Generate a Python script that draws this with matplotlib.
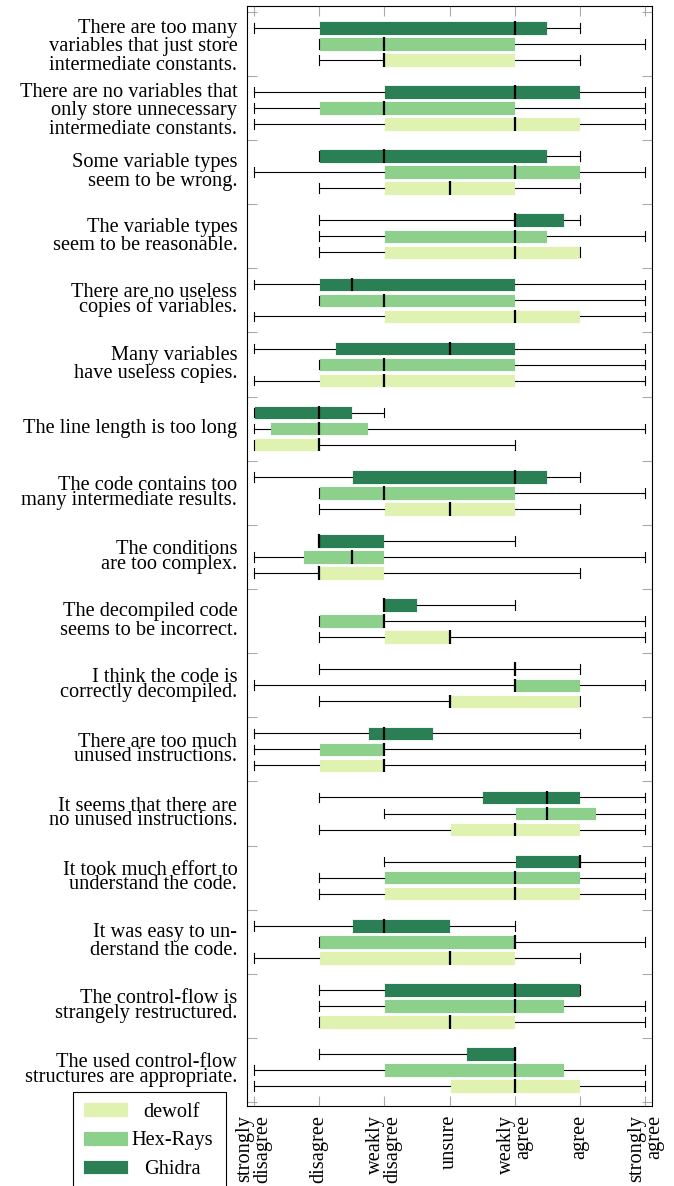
import matplotlib
matplotlib.use('Agg')
import matplotlib.pyplot as plt
from matplotlib.patches import Patch
from matplotlib.transforms import ScaledTranslation

questions = [
    'There are too many\nvariables that just store\nintermediate constants.',
    'There are no variables that\nonly store unnecessary\nintermediate constants.',
    'Some variable types\nseem to be wrong.',
    'The variable types\nseem to be reasonable.',
    'There are no useless\ncopies of variables.',
    'Many variables\nhave useless copies.',
    'The line length is too long',
    'The code contains too\nmany intermediate results.',
    'The conditions\nare too complex.',
    'The decompiled code\nseems to be incorrect.',
    'I think the code is\ncorrectly decompiled.',
    'There are too much\nunused instructions.',
    'It seems that there are\nno unused instructions.',
    'It took much effort to\nunderstand the code.',
    'It was easy to un-\nderstand the code.',
    'The control-flow is\nstrangely restructured.',
    'The used control-flow\nstructures are appropriate.',
]

answers = ['strongly\ndisagree', 'disagree', 'weakly\ndisagree', 'unsure',
           'weakly\nagree', 'agree', 'strongly\nagree']

tools = ['dewolf', 'Hex-Rays', 'Ghidra']

# (whisker low, q1, median, q3, whisker high) per question
dewolf = [
    (2, 3, 3, 5, 6), (1, 3, 5, 6, 7), (2, 3, 4, 5, 6), (2, 3, 5, 6, 6),
    (1, 3, 5, 6, 7), (1, 2, 3, 5, 7), (1, 1, 2, 2, 5), (2, 3, 4, 5, 6),
    (1, 2, 2, 3, 6), (2, 3, 4, 4, 7), (2, 4, 4, 6, 6), (1, 2, 3, 3, 7),
    (2, 4, 5, 6, 7), (2, 3, 5, 6, 7), (1, 2, 4, 5, 6), (2, 2, 4, 5, 7),
    (1, 4, 5, 6, 7),
]
hexrays = [
    (2, 2, 3, 5, 7), (1, 2, 3, 5, 7), (1, 3, 5, 6, 7), (2, 3, 5, 5.5, 7),
    (2, 2, 3, 5, 7), (2, 2, 3, 5, 7), (1, 1.25, 2, 2.75, 7), (2, 2, 3, 5, 7),
    (1, 1.75, 2.5, 3, 7), (2, 2, 3, 3, 7), (1, 5, 5, 6, 7), (1, 2, 3, 3, 7),
    (3, 5, 5.5, 6.25, 7), (2, 3, 5, 6, 7), (2, 2, 5, 5, 7), (2, 3, 5, 5.75, 7),
    (1, 3, 5, 5.75, 7),
]
ghidra = [
    (1, 2, 5, 5.5, 6), (1, 3, 5, 6, 7), (2, 2, 3, 5.5, 6), (2, 5, 5, 5.75, 6),
    (1, 2, 2.5, 5, 7), (1, 2.25, 4, 5, 7), (1, 1, 2, 2.5, 3), (1, 2.5, 5, 5.5, 6),
    (2, 2, 2, 3, 5), (3, 3, 3, 3.5, 5), (2, 5, 5, 5, 6), (1, 2.75, 3, 3.75, 6),
    (2, 4.5, 5.5, 6, 7), (3, 5, 6, 6, 7), (1, 2.5, 3, 4, 5), (2, 3, 5, 6, 6),
    (2, 4.25, 5, 5, 5),
]

colors = {'dewolf': '#dff2b0', 'Hex-Rays': '#8cd08c', 'Ghidra': '#2b7f55'}
offsets = {'dewolf': 0.25, 'Hex-Rays': 0.0, 'Ghidra': -0.25}
# some of the question labels are set tighter in the original
label_linespacing = [0.95, 0.95, 0.95, 0.95, 0.68, 0.95, 0.95, 0.68, 0.68,
                     0.95, 0.68, 0.68, 0.68, 0.68, 0.95, 0.68, 0.68]

plt.rcParams.update({'font.family': ['Liberation Serif', 'DejaVu Serif'],
                     'font.size': 14.7,
                     'axes.linewidth': 0.8})

fig = plt.figure(figsize=(6.74, 11.86), dpi=100)
ax = fig.add_axes([247 / 674, 1 - 1106 / 1186, 405 / 674, 1100 / 1186])

for name, stats in (('dewolf', dewolf), ('Hex-Rays', hexrays), ('Ghidra', ghidra)):
    bstats = [dict(whislo=s[0], q1=s[1], med=s[2], q3=s[3], whishi=s[4]) for s in stats]
    ax.bxp(bstats, positions=[i + offsets[name] for i in range(len(stats))],
           widths=0.21, capwidths=0.15, orientation='horizontal',
           patch_artist=True, showfliers=False, manage_ticks=False,
           boxprops=dict(facecolor=colors[name], edgecolor='white', linewidth=0.6),
           medianprops=dict(color='black', linewidth=1.6),
           whiskerprops=dict(color='black', linewidth=0.8),
           capprops=dict(color='black', linewidth=0.8))

ax.set_xlim(0.9, 7.1)
ax.set_xticks(range(1, 8))
ax.set_xticklabels(answers, rotation=90, ha='center', va='top',
                   multialignment='right', linespacing=0.9)
ax.tick_params(axis='x', direction='in', top=True, bottom=True, length=7.2,
               color='#aaaaaa', width=0.8, pad=6.5)

ax.set_ylim(16.56, -0.59)
ax.set_yticks(range(len(questions)))
ax.set_yticklabels(questions, multialignment='right', va='center')
ax.set_yticks([i - 0.5 for i in range(len(questions) + 1)], minor=True)
ax.tick_params(axis='y', which='major', length=0, pad=7)
ax.tick_params(axis='y', which='minor', direction='in', left=True, right=True,
               length=7.2, color='#aaaaaa', width=0.8)
for lbl, ls in zip(ax.get_yticklabels(), label_linespacing):
    lbl.set_linespacing(ls)
    if lbl.get_text().count('\n') == 2:
        # three-line labels sit a little lower in the original
        lbl.set_transform(lbl.get_transform() + ScaledTranslation(0, -0.03, fig.dpi_scale_trans))

handles = [Patch(facecolor=colors[t], edgecolor='white', linewidth=0.6) for t in tools]
leg_top = 1 - 1092 / 1186
leg = fig.legend(handles, tools, loc='upper left', mode='expand',
                 bbox_to_anchor=(73 / 674, leg_top - 0.1, 153 / 674, 0.1),
                 fancybox=False, edgecolor='black', framealpha=1,
                 handlelength=2.2, handleheight=0.73, handletextpad=0.15,
                 labelspacing=0.45, borderpad=0.5, borderaxespad=0)
leg.get_frame().set_linewidth(0.8)

# center the legend labels like the original
fig.canvas.draw()
r = fig.canvas.get_renderer()
texts = leg.get_texts()
w = [t.get_window_extent(r).width for t in texts]
for t, wi in zip(texts, w):
    t.set_x((max(w) - wi) / 2)

fig.savefig('out.png', dpi=100)
